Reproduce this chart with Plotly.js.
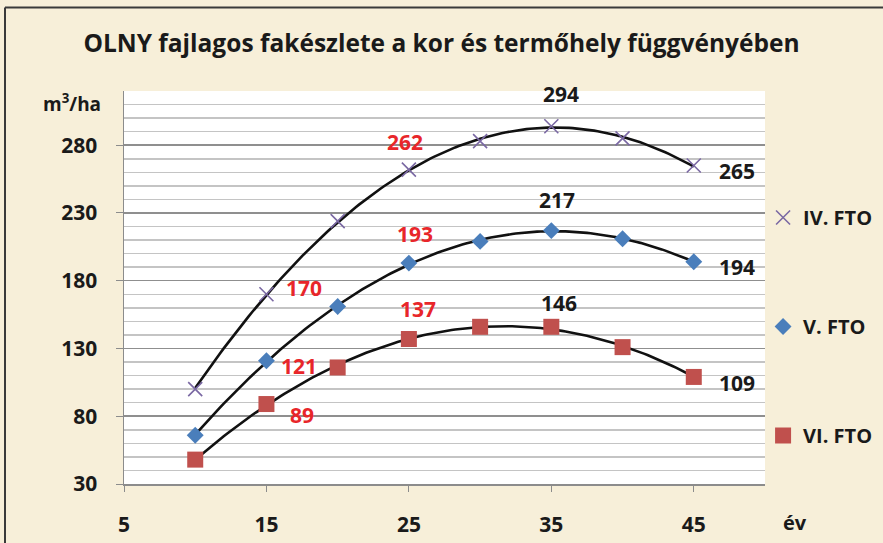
<!DOCTYPE html>
<html>
<head>
<meta charset="utf-8">
<script src="https://cdn.plot.ly/plotly-3.0.1.min.js"></script>
<style>html,body{margin:0;padding:0;background:#f7efd9;}#chart{width:883px;height:543px;}</style>
</head>
<body>
<div id="chart"></div>
<script>
// ---- data ----
const years = [10, 15, 20, 25, 30, 35, 40, 45];
const seriesNames = ["IV. FTO", "V. FTO", "VI. FTO"];
const ivValues = [100, 170, 224, 262, 283, 294, 285, 265];
const vValues = [66, 121, 161, 193, 209, 217, 211, 194];
const viValues = [48, 89, 116, 137, 146, 146, 131, 109];
const xTicks = [5, 15, 25, 35, 45];
const yTicks = [30, 80, 130, 180, 230, 280];
const labelledIdx = [1, 3, 5, 7];

// quadratic least-squares trendline (like Excel polynomial trend, order 2)
function quadFit(xs, ys) {
  let n = xs.length, sx = 0, sx2 = 0, sx3 = 0, sx4 = 0, sy = 0, sxy = 0, sx2y = 0;
  for (let i = 0; i < n; i++) {
    const x = xs[i], y = ys[i];
    sx += x; sx2 += x * x; sx3 += x ** 3; sx4 += x ** 4;
    sy += y; sxy += x * y; sx2y += x * x * y;
  }
  const M = [[n, sx, sx2, sy], [sx, sx2, sx3, sxy], [sx2, sx3, sx4, sx2y]];
  for (let c = 0; c < 3; c++) {
    for (let r = c + 1; r < 3; r++) {
      const f = M[r][c] / M[c][c];
      for (let k = c; k < 4; k++) M[r][k] -= f * M[c][k];
    }
  }
  const coef = [0, 0, 0];
  for (let r = 2; r >= 0; r--) {
    let s = M[r][3];
    for (let k = r + 1; k < 3; k++) s -= M[r][k] * coef[k];
    coef[r] = s / M[r][r];
  }
  return coef;
}
function trend(xs, ys) {
  const c = quadFit(xs, ys);
  const tx = [], ty = [];
  const x0 = xs[0], x1 = xs[xs.length - 1];
  for (let i = 0; i <= 140; i++) {
    const x = x0 + (x1 - x0) * i / 140;
    tx.push(x); ty.push(c[0] + c[1] * x + c[2] * x * x);
  }
  return {x: tx, y: ty};
}

const allSeries = [ivValues, vValues, viValues];
const markerStyles = [
  {symbol: "x-thin", size: 14, color: "#7a68a3", line: {color: "#7a68a3", width: 1.6}},
  {symbol: "diamond", size: 13, color: "#4a7ebb", line: {width: 0}},
  {symbol: "square", size: 16, color: "#c0504d", line: {width: 0}}
];

const traces = [];
allSeries.forEach((vals, i) => {
  const t = trend(years, vals);
  traces.push({x: t.x, y: t.y, mode: "lines", line: {color: "#111", width: 2.6}, showlegend: false, hoverinfo: "skip"});
});
allSeries.forEach((vals, i) => {
  traces.push({x: years, y: vals, mode: "markers", name: seriesNames[i], legendgroup: "g" + i,
    marker: markerStyles[i]});
});

// label placement (pixel offsets from each labelled point)
const shifts = [
  [[38, 6], [-4, 28], [10, 32], [43, -5]],
  [[33, -5], [6, 29], [6, 31], [43, -5]],
  [[36, -11], [9, 30], [8, 24], [43, -6]]
];
const labelColors = ["#e8262a", "#e8262a", "#1a1a1a", "#1a1a1a"];
const annotations = [];
allSeries.forEach((vals, s) => {
  labelledIdx.forEach((idx, k) => {
    annotations.push({x: years[idx], y: vals[idx], xref: "x", yref: "y", text: String(vals[idx]),
      showarrow: false, xshift: shifts[s][k][0], yshift: shifts[s][k][1],
      font: {family: "Open Sans", size: 21, color: labelColors[k], weight: "bold"}});
  });
});
annotations.push({xref: "paper", yref: "paper", x: (72 - 124) / 641, y: (484 - 103) / 393, text: "m<sup>3</sup>/ha",
  xanchor: "center", yanchor: "middle",
  showarrow: false, font: {family: "Open Sans", size: 19, color: "#1a1a1a", weight: "bold"}});
annotations.push({xref: "paper", yref: "paper", x: (795 - 124) / 641, y: (484 - 522) / 393, text: "év",
  xanchor: "center", yanchor: "middle",
  showarrow: false, font: {family: "Open Sans", size: 20, color: "#1a1a1a", weight: "bold"}});

const layout = {
  width: 883, height: 543,
  margin: {l: 124, r: 118, t: 91, b: 59, autoexpand: false},
  paper_bgcolor: "#f7efd9",
  plot_bgcolor: "#ffffff",
  title: {text: "OLNY fajlagos fakészlete a kor és termőhely függvényében", x: 0.5, xref: "container",
    y: 1 - 43 / 543, yref: "container", yanchor: "middle", xanchor: "center",
    font: {family: "Open Sans", size: 24.5, color: "#1a1a1a", weight: "bold"}},
  xaxis: {range: [5, 50], tickvals: xTicks, showgrid: false, zeroline: false, showline: true,
    linecolor: "#8c8c8c", linewidth: 1.5, ticks: "outside", ticklen: 6, tickcolor: "#8c8c8c",
    ticklabelstandoff: 15, tickfont: {family: "Open Sans", size: 21, color: "#1a1a1a", weight: "bold"}},
  yaxis: {range: [30, 320], tickvals: yTicks, showgrid: true, gridcolor: "#8f8f8f", gridwidth: 1.5,
    zeroline: false, showline: true, linecolor: "#8c8c8c", linewidth: 1.5, ticks: "outside", ticklen: 7,
    tickcolor: "#8c8c8c", ticklabelstandoff: 14,
    minor: {dtick: 10, tick0: 30, showgrid: true, gridcolor: "#c4c4c4", gridwidth: 1.5},
    tickfont: {family: "Open Sans", size: 21, color: "#1a1a1a", weight: "bold"}},
  legend: {x: 0.997, xanchor: "left", y: (484 - 198) / 393, yanchor: "top", bgcolor: "rgba(0,0,0,0)",
    tracegroupgap: 80, font: {family: "Open Sans", size: 20, color: "#1a1a1a", weight: "bold"}},
  shapes: [
    {type: "line", xref: "paper", yref: "paper", x0: (5 - 124) / 641, x1: (900 - 124) / 641,
      y0: (484 - 7.5) / 393, y1: (484 - 7.5) / 393, line: {color: "#3a3a3a", width: 2}},
    {type: "line", xref: "paper", yref: "paper", x0: (5 - 124) / 641, x1: (5 - 124) / 641,
      y0: (484 - 7.5) / 393, y1: (484 - 560) / 393, line: {color: "#3a3a3a", width: 2}}
  ],
  annotations: annotations
};

Plotly.newPlot("chart", traces, layout, {displayModeBar: false, staticPlot: true});
</script>
</body>
</html>
